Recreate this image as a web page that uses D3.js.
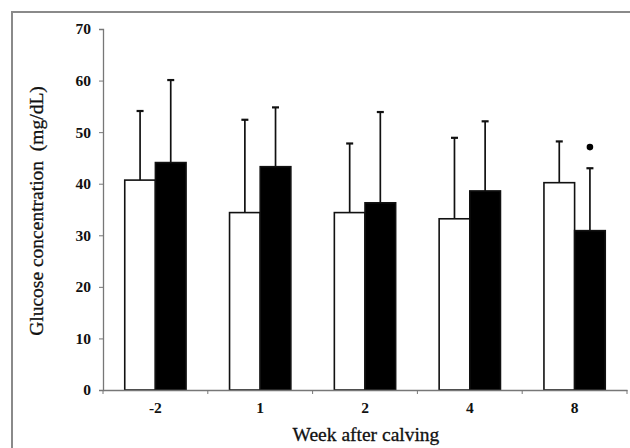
<!DOCTYPE html>
<html><head><meta charset="utf-8">
<script src="https://cdn.jsdelivr.net/npm/d3@7"></script>
<style>html,body{margin:0;padding:0;background:#fff;}</style>
</head><body>
<svg id="c" width="630" height="448"></svg>
<script>
const weeks = ["-2", "1", "2", "4", "8"];
const whiteMeans = [40.7, 34.4, 34.4, 33.2, 40.2];
const whiteSD = [13.4, 18.0, 13.4, 15.7, 8.0];
const blackMeans = [44.1, 43.3, 36.3, 38.6, 30.9];
const blackSD = [16.0, 11.5, 17.6, 13.5, 12.1];
const yTicks = [0, 10, 20, 30, 40, 50, 60, 70];
const starMarks = [{week: "8", series: 1, value: 47.1}];

const svg = d3.select("#c");
const mLeft = 103, mRight = 627, mTop = 29, mBottom = 390;
const serif = "'Liberation Serif', 'Times New Roman', serif";

svg.append("rect").attr("x", 12).attr("y", 12).attr("width", 630).attr("height", 448)
  .attr("fill", "#fff").attr("stroke", "#8a8a8a").attr("stroke-width", 2);

const x = d3.scaleBand().domain(weeks).range([mLeft, mRight]).paddingInner(0.415).paddingOuter(0.2075);
const xs = d3.scaleBand().domain([0, 1]).range([0, x.bandwidth()]);
const y = d3.scaleLinear().domain([0, 70]).range([mBottom, mTop]);

// y axis
const ya = svg.append("g").attr("transform", `translate(${mLeft},0)`)
  .call(d3.axisLeft(y).tickValues(yTicks).tickSize(4).tickPadding(8).tickFormat(d3.format("d")));
ya.select(".domain").attr("stroke", "#777").attr("stroke-width", 1.3);
ya.selectAll(".tick line").attr("stroke", "#777");
ya.selectAll("text").attr("font-family", serif).attr("font-weight", "bold")
  .attr("font-size", 15.5).attr("fill", "#111");

const series = [
  {means: whiteMeans, sd: whiteSD, fill: "#fff"},
  {means: blackMeans, sd: blackSD, fill: "#000"}
];

series.forEach((s, si) => {
  const g = svg.append("g");
  g.selectAll("line.err").data(weeks).enter().append("line")
    .attr("x1", (d) => x(d) + xs(si) + xs.bandwidth() / 2)
    .attr("x2", (d) => x(d) + xs(si) + xs.bandwidth() / 2)
    .attr("y1", (d, i) => y(s.means[i]))
    .attr("y2", (d, i) => y(s.means[i] + s.sd[i]))
    .attr("stroke", "#111").attr("stroke-width", 1.7);
  g.selectAll("line.cap").data(weeks).enter().append("line")
    .attr("x1", (d) => x(d) + xs(si) + xs.bandwidth() / 2 - 3.5)
    .attr("x2", (d) => x(d) + xs(si) + xs.bandwidth() / 2 + 3.5)
    .attr("y1", (d, i) => y(s.means[i] + s.sd[i]))
    .attr("y2", (d, i) => y(s.means[i] + s.sd[i]))
    .attr("stroke", "#111").attr("stroke-width", 2.2);
  g.selectAll("rect").data(weeks).enter().append("rect")
    .attr("x", (d) => x(d) + xs(si))
    .attr("width", xs.bandwidth())
    .attr("y", (d, i) => y(s.means[i]))
    .attr("height", (d, i) => y(0) - y(s.means[i]))
    .attr("fill", s.fill).attr("stroke", "#111").attr("stroke-width", 1.6);
});

// x axis
const xa = svg.append("g").attr("transform", `translate(0,${mBottom})`)
  .call(d3.axisBottom(x).tickSize(0).tickPadding(12));
xa.select(".domain").attr("stroke", "#777").attr("stroke-width", 1.3);
xa.selectAll("text").attr("font-family", serif).attr("font-weight", "bold")
  .attr("font-size", 15.5).attr("fill", "#111");
const bounds = d3.range(weeks.length + 1).map(i => mLeft + i * x.step());
svg.append("g").selectAll("line").data(bounds).enter().append("line")
  .attr("x1", d => d).attr("x2", d => d).attr("y1", mBottom).attr("y2", mBottom + 4)
  .attr("stroke", "#777").attr("stroke-width", 1);

svg.selectAll("circle.star").data(starMarks).enter().append("circle")
  .attr("cx", d => x(d.week) + xs(d.series) + xs.bandwidth() / 2)
  .attr("cy", d => y(d.value)).attr("r", 3.3).attr("fill", "#000");

svg.append("text").attr("x", 366).attr("y", 441).attr("text-anchor", "middle")
  .attr("font-family", serif).attr("font-size", 19.5).attr("fill", "#111")
  .attr("stroke", "#111").attr("stroke-width", 0.3)
  .text("Week after calving");
svg.append("text").attr("transform", "translate(43,211) rotate(-90)").attr("text-anchor", "middle")
  .attr("font-family", serif).attr("font-size", 19.5).attr("fill", "#111")
  .attr("stroke", "#111").attr("stroke-width", 0.3)
  .attr("xml:space", "preserve").style("white-space", "pre")
  .text("Glucose concentration  (mg/dL)");
</script>
</body></html>
